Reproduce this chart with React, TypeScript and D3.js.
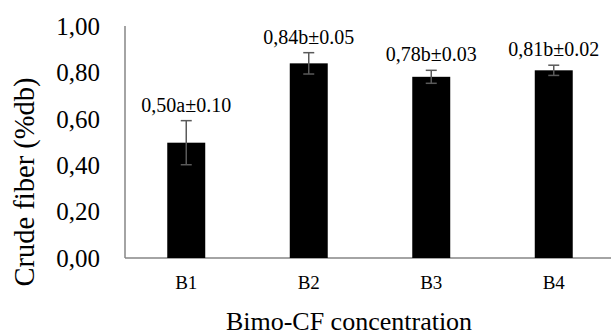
import React from "react";
import * as d3 from "d3";

const categories = ["B1", "B2", "B3", "B4"];
const values = [0.497, 0.839, 0.781, 0.809];
const errors = [0.095, 0.046, 0.028, 0.022];
const labels = ["0,50a±0.10", "0,84b±0.05", "0,78b±0.03", "0,81b±0.02"];
const yTicks = [0, 0.2, 0.4, 0.6, 0.8, 1.0];
const yTickLabels = ["0,00", "0,20", "0,40", "0,60", "0,80", "1,00"];

const W = 611;
const H = 336;
const FONT = "Liberation Serif";

export default function App() {
  const x = d3.scaleBand<string>().domain(categories).range([125, 615]).paddingInner(0.69).paddingOuter(0.345);
  const y = d3.scaleLinear().domain([0, 1]).range([258, 26]);
  const axisColor = "#868686";
  const errColor = "#5a5a5a";
  const ts = (size: number) => ({ fontFamily: FONT, fontSize: size });
  return (
    <svg width={W} height={H} style={{ position: "absolute", left: 0, top: 0, background: "#fff" }}>
      <line x1={125} x2={611} y1={y(0)} y2={y(0)} stroke={axisColor} strokeWidth={1.5} />
      <line x1={125} x2={125} y1={y(1)} y2={y(0)} stroke={axisColor} strokeWidth={1.5} />
      {yTicks.map((t, i) => (
        <text key={i} x={100} y={y(t)} dy="0.35em" textAnchor="end" style={ts(25)} fill="#000">
          {yTickLabels[i]}
        </text>
      ))}
      {categories.map((c, i) => {
        const bx = x(c)!;
        const bw = x.bandwidth();
        const cx = bx + bw / 2;
        const top = y(values[i] + errors[i]);
        const bot = y(values[i] - errors[i]);
        return (
          <g key={c}>
            <rect x={bx} y={y(values[i])} width={bw} height={y(0) - y(values[i])} fill="#000" />
            <line x1={cx} x2={cx} y1={top} y2={bot} stroke={errColor} strokeWidth={1.5} />
            <line x1={cx - 5.5} x2={cx + 5.5} y1={top} y2={top} stroke={errColor} strokeWidth={1.5} />
            <line x1={cx - 5.5} x2={cx + 5.5} y1={bot} y2={bot} stroke={errColor} strokeWidth={1.5} />
            <text x={cx} y={top - 9} textAnchor="middle" style={ts(20)} fill="#000">
              {labels[i]}
            </text>
            <text x={cx} y={289} textAnchor="middle" style={ts(19)} fill="#000">
              {c}
            </text>
          </g>
        );
      })}
      <text x={349} y={330} textAnchor="middle" style={ts(26)} fill="#000">
        Bimo-CF concentration
      </text>
      <text transform={`translate(34,182) rotate(-90)`} textAnchor="middle" style={ts(28.5)} fill="#000">
        Crude fiber (%db)
      </text>
    </svg>
  );
}
